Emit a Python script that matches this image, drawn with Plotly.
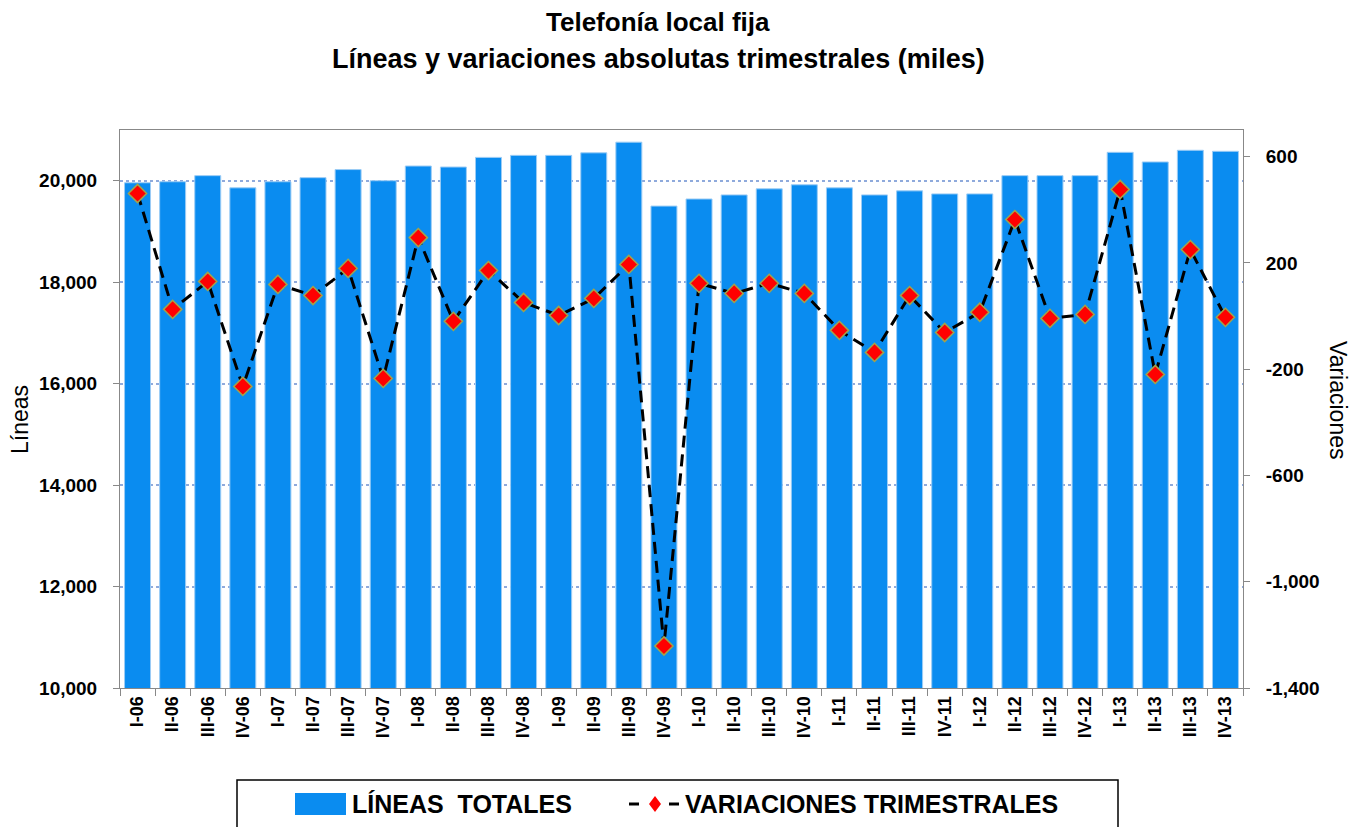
import plotly.graph_objects as go

quarters = ["I-06", "II-06", "III-06", "IV-06", "I-07", "II-07", "III-07", "IV-07",
            "I-08", "II-08", "III-08", "IV-08", "I-09", "II-09", "III-09", "IV-09",
            "I-10", "II-10", "III-10", "IV-10", "I-11", "II-11", "III-11", "IV-11",
            "I-12", "II-12", "III-12", "IV-12", "I-13", "II-13", "III-13", "IV-13"]

lineas_totales = [19960, 19980, 20100, 19860, 19980, 20060, 20220, 20000,
                  20290, 20270, 20460, 20500, 20500, 20550, 20760, 19500,
                  19640, 19720, 19840, 19920, 19860, 19720, 19800, 19740,
                  19740, 20100, 20100, 20100, 20560, 20370, 20600, 20580]

variaciones = [461, 25, 130, -265, 119, 77, 179, -235,
               295, -20, 171, 51, 2, 66, 194, -1242,
               123, 85, 123, 85, -54, -137, 77, -62,
               14, 363, -9, 6, 476, -220, 250, -5]

var_ticks = [-1400, -1000, -600, -200, 200, 600]
var_ticktext = ["-1,400", "-1,000", "-600", "-200", "200", "600"]

FONT = "Liberation Sans"
BAR_COLOR = "#0A8CF0"

# page body adds an 8px offset, so the figure is drawn a bit smaller
OFF = 8
W, H = 1360 - OFF, 827 - OFF
# plot area in screen pixels: x 120..1243, y 130..688
L, R, T, B = 120, 1243, 130, 688
def px(x):
    return (x - L) / (R - L)
def py(y):
    return (B - y) / (B - T)

fig = go.Figure()
fig.add_trace(go.Bar(x=quarters, y=lineas_totales, name="LÍNEAS  TOTALES",
                     marker=dict(color=BAR_COLOR, line=dict(color="#9CCCF5", width=1))))
fig.add_trace(go.Scatter(x=quarters, y=variaciones, yaxis="y2", name="VARIACIONES TRIMESTRALES",
                         mode="lines+markers",
                         line=dict(color="black", width=3, dash="12px,7px"),
                         marker=dict(symbol="diamond", size=14, color="#FF0000",
                                     line=dict(color="#A3A34A", width=1.5))))

fig.update_layout(
    width=W, height=H,
    margin=dict(l=L - OFF, r=W - (R - OFF), t=T - OFF, b=H - (B - OFF), autoexpand=False),
    paper_bgcolor="white", plot_bgcolor="white",
    font=dict(family=FONT, color="black"),
    bargap=0.26,
    showlegend=False,
    xaxis=dict(type="category", range=[-0.5, len(quarters) - 0.5],
               tickangle=-90, tickson="boundaries",
               ticks="outside", ticklen=7, tickcolor="#888888",
               showline=True, linecolor="#888888", mirror=True,
               tickfont=dict(size=18, family=FONT, weight="bold"), showgrid=False),
    yaxis=dict(range=[10000, 21000], dtick=2000, tickformat=",",
               ticks="outside", ticklen=6, tickcolor="#888888",
               showline=True, linecolor="#888888", zeroline=False,
               showgrid=True, gridcolor="#8FAADC", griddash="dot", gridwidth=1.5,
               ticklabelstandoff=12,
               tickfont=dict(size=19, family=FONT, weight="bold")),
    yaxis2=dict(overlaying="y", side="right", range=[-1400, 700],
                tickvals=var_ticks, ticktext=var_ticktext,
                ticks="outside", ticklen=6, tickcolor="#888888",
                showline=True, linecolor="#888888", showgrid=False, zeroline=False,
                ticklabelstandoff=12,
                tickfont=dict(size=19, family=FONT, weight="bold")),
)

def note(text, x, y, size, angle=0, xanchor="center", bold=False):
    fig.add_annotation(text="<b>%s</b>" % text if bold else text,
                       xref="paper", yref="paper", x=px(x), y=py(y),
                       xanchor=xanchor, yanchor="middle", textangle=angle,
                       showarrow=False, font=dict(size=size, family=FONT, color="black"))

# title
note("Telefonía local fija", 658, 22, 26, bold=True)
note("Líneas y variaciones absolutas trimestrales (miles)", 658, 59, 27, bold=True)

# axis titles
note("Líneas", 20, 420, 23, angle=-90)
note("Variaciones", 1338, 400, 23, angle=90)

# legend box drawn by hand
fig.add_shape(type="rect", xref="paper", yref="paper", x0=px(237), x1=px(1118),
              y0=py(780), y1=py(860), line=dict(color="black", width=1.5), fillcolor="white")
fig.add_shape(type="rect", xref="paper", yref="paper", x0=px(295), x1=px(346),
              y0=py(793), y1=py(815), line=dict(width=0), fillcolor=BAR_COLOR)
note("LÍNEAS\u00a0 TOTALES", 350, 804, 25, xanchor="left", bold=True)
for x0, x1 in [(629, 639), (669, 679)]:
    fig.add_shape(type="line", xref="paper", yref="paper", x0=px(x0), x1=px(x1),
                  y0=py(804), y1=py(804), line=dict(color="black", width=3))
fig.add_shape(type="path", xref="paper", yref="paper",
              path="M {} {} L {} {} L {} {} L {} {} Z".format(px(655), py(796), px(661), py(804),
                                                             px(655), py(812), px(649), py(804)),
              line=dict(width=0), fillcolor="#FF0000")
note("VARIACIONES TRIMESTRALES", 683, 804, 25, xanchor="left", bold=True)

fig.write_html("out.html")
